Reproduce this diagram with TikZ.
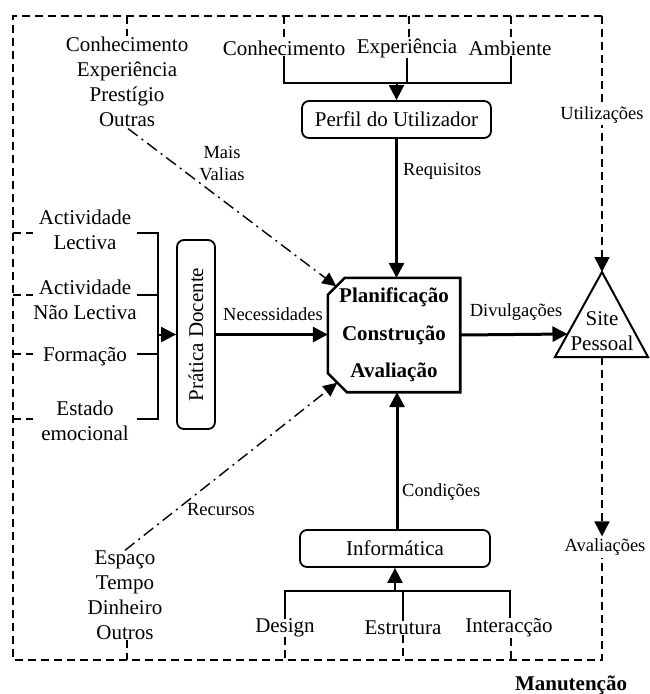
\documentclass[tikz,border=0pt]{standalone}
\usepackage{fontspec}
\setmainfont{Liberation Serif}
\usetikzlibrary{arrows.meta}
\begin{document}
\begin{tikzpicture}[x=1pt,y=-1pt,
  txt/.style={font=\fontsize{21}{25}\selectfont, inner sep=0pt, align=center},
  lbl/.style={font=\fontsize{18.5}{22}\selectfont, inner sep=0pt, align=center},
  bx/.style={draw, line width=1.8pt, rounded corners=7pt, font=\fontsize{21}{25}\selectfont, inner sep=0pt},
  tip/.style={-{Triangle[length=15pt,width=15pt]}},
  thickarrow/.style={line width=3pt, tip},
  brk/.style={line width=2pt},
  dsh/.style={line width=1.7pt, dash pattern=on 8pt off 5pt},
  dd/.style={line width=1.4pt, dash pattern=on 12pt off 5pt on 2pt off 5pt, -{Triangle[length=14pt,width=13pt]}},
]
\useasboundingbox (0,0) rectangle (649,694);

% ---------- main box ----------
\node[minimum width=132pt, minimum height=114pt, inner sep=0pt,
      font=\bfseries\fontsize{21}{37.5}\selectfont, align=center] (main) at (394,335)
      {Planificação\\Construção\\Avaliação};
\draw[line width=2.6pt, line join=miter]
  ([xshift=17pt]main.north west) -- (main.north east) -- (main.south east)
  -- ([xshift=19pt]main.south west) -- ([yshift=19pt]main.south west)
  -- ([yshift=-17pt]main.north west) -- cycle;
\coordinate (chamTop) at ([xshift=8.5pt,yshift=-8.5pt]main.north west);
\coordinate (chamBot) at ([xshift=9.5pt,yshift=9.5pt]main.south west);

% ---------- boxes ----------
\node[bx, minimum width=189pt, minimum height=37pt] (perfil) at (396.5,119.5) {Perfil do Utilizador};
\node[bx, minimum width=190pt, minimum height=37pt] (info) at (395,548.5) {Informática};
\node[bx, rotate=90, minimum width=189pt, minimum height=38pt] (prat) at (196,334.5) {Prática Docente};

% ---------- triangle ----------
\coordinate (apex) at (602,272);
\coordinate (triL) at (555,357);
\coordinate (triR) at (648,357);
\coordinate (triB) at (602,357);
\draw[line width=2pt, line join=miter] (apex) -- (triL) -- (triR) -- cycle;
\node[txt] (site) at (602,331) {Site\\Pessoal};
\coordinate (triIn) at (567.5,334);

% ---------- top inputs ----------
\node[txt] (conh) at (284,48) {Conhecimento};
\node[txt] (expe) at (407,48) {Experiência};
\node[txt] (ambi) at (510,48) {Ambiente};
\coordinate (bt1) at (284,83);
\coordinate (bt2) at (407,83);
\coordinate (bt3) at (511,83);
\coordinate (btA) at (396.5,83);
\draw[brk] (conh.south -| bt1) -- (bt1) -- (bt3) -- (ambi.south -| bt3);
\draw[brk] (expe.south -| bt2) -- (bt2);
\draw[thickarrow, line width=2pt] (btA) -- (perfil.north);

\draw[thickarrow] (perfil.south -| btA) -- (main.north -| btA);
\node[lbl, anchor=west] (requ) at (403,171) {Requisitos};

% ---------- upper-left ----------
\node[txt] (valor) at (127,81.5) {Conhecimento\\Experiência\\Prestígio\\Outras};
\draw[dd] (valor.south) ++(1,2) -- (chamTop);
\node[lbl] (mais) at (222,164) {Mais\\Valias};

% ---------- left inputs ----------
\node[txt] (act1) at (85,229.5) {Actividade\\Lectiva};
\node[txt] (act2) at (85,299.5) {Actividade\\Não Lectiva};
\node[txt] (form) at (85,357) {Formação};
\node[txt] (esta) at (85,420.5) {Estado\\emocional};
\coordinate (bl1) at (158,233);
\coordinate (bl2) at (158,295);
\coordinate (bl3) at (158,354);
\coordinate (bl4) at (158,419);
\coordinate (blA) at (158,334.5);
\draw[brk] (137,233) -- (bl1) -- (bl4) -- (137,419);
\draw[brk] (137,295) -- (bl2);
\draw[brk] (137,354) -- (bl3);
\draw[thickarrow, line width=2pt] (blA) -- (prat.north);
\draw[thickarrow] (prat.south) -- (main.west |- prat.south);
\node[lbl] (nece) at (273,314) {Necessidades};

% ---------- lower-left ----------
\node[txt] (recu) at (125,595) {Espaço\\Tempo\\Dinheiro\\Outros};
\draw[dd] (recu.north) -- (chamBot);
\node[lbl] (recl) at (221,510) {Recursos};

% ---------- bottom inputs ----------
\node[txt] (desi) at (285,628) {Design};
\node[txt] (estr) at (403,628) {Estrutura};
\node[txt] (inte) at (509,628) {Interacção};
\coordinate (bb1) at (285,591);
\coordinate (bb2) at (403,591);
\coordinate (bb3) at (510,591);
\coordinate (bbA) at (395,591);
\draw[brk] (desi.north -| bb1) -- (bb1) -- (bb3) -- (inte.north -| bb3);
\draw[brk] (estr.north -| bb2) -- (bb2);
\draw[thickarrow, line width=2pt] (bbA) -- (info.south -| bbA);
\draw[thickarrow] (info.north -| 397,0) -- (main.south -| 397,0);
\node[lbl, anchor=west] (cond) at (402,492) {Condições};

% ---------- right ----------
\draw[thickarrow] (main.east) -- (triIn);
\node[lbl] (divu) at (516,312) {Divulgações};

% ---------- maintenance loop (dashed frame) ----------
\coordinate (fTL) at (13,16);
\coordinate (fTR) at (602,16);
\coordinate (fBL) at (13,660);
\coordinate (fBR) at (602,660);
\node[lbl, inner sep=2pt] (aval) at (605,547) {Avaliações};
\draw[dsh] (fTR) -- (fTL) -- (fBL) -- (fBR) -- (aval.south -| fBR);
\draw[dsh, tip] (fTR) -- (apex);
\node[lbl, fill=white, inner sep=2pt] (util) at (602,115) {Utilizações};
\draw[dsh, tip] (triB) -- (aval.north -| triB);
\node[font=\bfseries\fontsize{21}{25}\selectfont, inner sep=0pt] (manu) at (571,685) {Manutenção};

% drops from frame
\draw[dsh] (127,16) -- (valor.north -| 127,0);
\draw[dsh] (284,16) -- (conh.north);
\draw[dsh] (409,16) -- (expe.north -| 409,0);
\draw[dsh] (511,16) -- (ambi.north -| 511,0);
\draw[dsh] (13,233) -- (33,233);
\draw[dsh] (13,295) -- (33,295);
\draw[dsh] (13,354) -- (33,354);
\draw[dsh] (13,419) -- (33,419);
\draw[dsh] (recu.south -| 127,0) -- (127,660);
\draw[dsh] (desi.south) -- (285,660);
\draw[dsh] (estr.south) -- (403,660);
\draw[dsh] (inte.south -| 511,0) -- (511,660);
\end{tikzpicture}
\end{document}
